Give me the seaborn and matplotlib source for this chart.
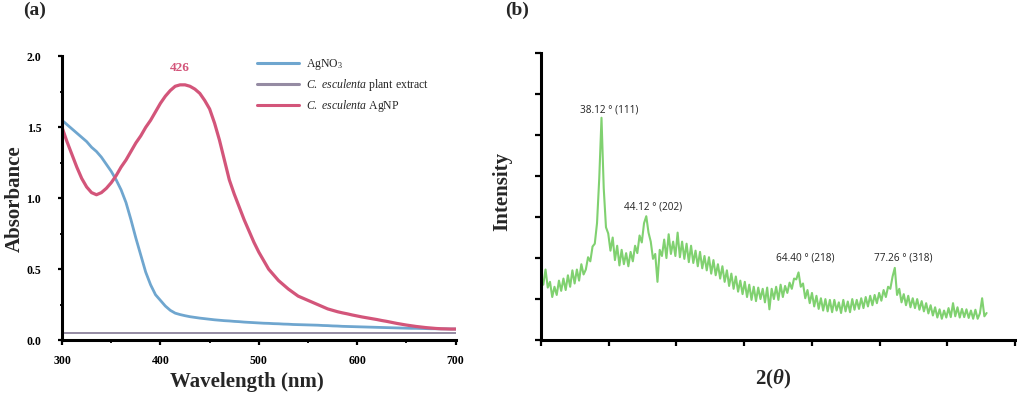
"""
UV-Vis spectra (a) and XRD pattern (b) of C. esculenta AgNP
"""
import numpy as np
import matplotlib
matplotlib.use('Agg')
import matplotlib.pyplot as plt
from matplotlib.ticker import MultipleLocator, FormatStrFormatter
import seaborn as sns

# ── data: UV-Vis (5 nm steps) ─────────────────────────────────────────────────
wavelength = list(range(300, 701, 5))
agno3 = [1.55, 1.52, 1.49, 1.46, 1.43, 1.40, 1.36, 1.33, 1.29, 1.24,
         1.19, 1.13, 1.06, 0.97, 0.85, 0.72, 0.60, 0.48, 0.39, 0.32,
         0.28, 0.24, 0.21, 0.19, 0.18, 0.172, 0.165, 0.16, 0.155, 0.151,
         0.147, 0.143, 0.14, 0.137, 0.135, 0.132, 0.13, 0.127, 0.125, 0.123,
         0.121, 0.119, 0.118, 0.116, 0.115, 0.113, 0.112, 0.11, 0.109, 0.108,
         0.107, 0.106, 0.105, 0.103, 0.102, 0.1, 0.099, 0.097, 0.096, 0.095,
         0.094, 0.093, 0.092, 0.091, 0.09, 0.089, 0.088, 0.087, 0.086, 0.085,
         0.084, 0.083, 0.083, 0.082, 0.081, 0.08, 0.08, 0.079, 0.079, 0.078,
         0.078]
agnp = [1.50, 1.40, 1.31, 1.22, 1.14, 1.08, 1.04, 1.025, 1.04, 1.07,
        1.11, 1.16, 1.22, 1.27, 1.33, 1.39, 1.44, 1.50, 1.55, 1.61,
        1.67, 1.72, 1.76, 1.79, 1.80, 1.80, 1.79, 1.77, 1.74, 1.69,
        1.63, 1.53, 1.41, 1.27, 1.13, 1.03, 0.94, 0.85, 0.77, 0.69,
        0.62, 0.56, 0.50, 0.46, 0.42, 0.39, 0.36, 0.335, 0.31, 0.295,
        0.28, 0.265, 0.25, 0.235, 0.22, 0.21, 0.20, 0.192, 0.185, 0.177,
        0.17, 0.163, 0.157, 0.151, 0.145, 0.138, 0.132, 0.125, 0.118, 0.112,
        0.106, 0.101, 0.096, 0.092, 0.088, 0.085, 0.082, 0.08, 0.079, 0.078,
        0.078]
extract_nm = [300, 700]
extract_abs = [0.052, 0.052]
peak_nm, peak_label = 420, '426'

# ── data: XRD (2θ scan, step 0.3°) ────────────────────────────────────────────
two_theta = np.round(np.arange(30.0, 89.8, 0.3), 1)
intensity = [
    1.53, 1.35, 1.72, 1.28, 1.42, 1.05, 1.30, 1.10, 1.45, 1.20,
    1.50, 1.22, 1.58, 1.30, 1.70, 1.38, 1.72, 1.45, 1.85, 1.60,
    1.72, 2.02, 1.92, 2.28, 2.35, 2.85, 3.95, 5.42, 3.70, 2.75,
    2.60, 2.18, 2.50, 1.95, 2.30, 1.82, 2.20, 1.85, 2.12, 1.80,
    2.15, 1.92, 2.30, 2.12, 2.55, 2.38, 2.85, 3.02, 2.62, 2.40,
    1.98, 2.10, 1.42, 2.20, 2.05, 2.45, 2.00, 2.58, 2.10, 2.40,
    2.05, 2.62, 2.02, 2.40, 1.98, 2.35, 1.90, 2.30, 1.88, 2.18,
    1.80, 2.15, 1.75, 2.05, 1.70, 2.02, 1.62, 1.95, 1.58, 1.85,
    1.50, 1.80, 1.42, 1.70, 1.32, 1.62, 1.25, 1.55, 1.18, 1.45,
    1.12, 1.42, 1.05, 1.35, 0.98, 1.30, 0.95, 1.28, 1.00, 1.25,
    0.92, 1.28, 0.75, 1.25, 1.00, 1.30, 0.98, 1.35, 1.05, 1.32,
    1.15, 1.40, 1.25, 1.50, 1.48, 1.65, 1.30, 1.38, 1.02, 1.22,
    0.90, 1.15, 0.82, 1.08, 0.76, 1.02, 0.72, 1.00, 0.70, 0.98,
    0.68, 0.98, 0.72, 0.92, 0.66, 0.98, 0.70, 0.94, 0.68, 1.00,
    0.74, 0.98, 0.76, 1.02, 0.78, 1.05, 0.82, 1.08, 0.85, 1.10,
    0.90, 1.15, 0.96, 1.22, 1.05, 1.30, 1.25, 1.55, 1.76, 1.10,
    1.25, 0.92, 1.12, 0.85, 1.08, 0.80, 1.02, 0.78, 1.00, 0.74,
    0.95, 0.70, 0.90, 0.65, 0.85, 0.60, 0.80, 0.55, 0.75, 0.52,
    0.72, 0.55, 0.78, 0.56, 0.90, 0.58, 0.80, 0.55, 0.76, 0.56,
    0.75, 0.54, 0.72, 0.52, 0.74, 0.52, 0.65, 1.02, 0.58, 0.66,
]
peak_pos = [38.12, 44.12, 64.40, 77.26]
peak_hkl = ['(111)', '(202)', '(218)', '(318)']
peak_text_xy = [(39.1, 5.62), (45.0, 3.25), (65.4, 2.0), (78.5, 2.0)]

# ── style ─────────────────────────────────────────────────────────────────────
sns.set_theme(style='ticks')
plt.rcParams.update({
    'font.family': ['Liberation Serif', 'DejaVu Serif'],
    'mathtext.fontset': 'custom',
    'mathtext.rm': 'Liberation Serif',
    'mathtext.it': 'Liberation Serif:italic',
    'mathtext.bf': 'Liberation Serif:bold',
    'mathtext.bfit': 'Liberation Serif:italic:bold',
    'axes.linewidth': 2.2, 'axes.edgecolor': 'black',
    'xtick.color': 'black', 'ytick.color': 'black',
    'xtick.major.width': 1.6, 'ytick.major.width': 1.6,
    'xtick.minor.width': 1.3, 'ytick.minor.width': 1.3,
    'xtick.major.size': 3.5, 'ytick.major.size': 3.0,
    'xtick.minor.size': 2.0, 'ytick.minor.size': 1.8,
})

C_BLUE, C_GREY, C_RED, C_GREEN = '#6fa6cf', '#958ba3', '#d3557a', '#80d170'

fig = plt.figure(figsize=(10.17, 3.95), dpi=100)

# ── (a) UV-Vis ────────────────────────────────────────────────────────────────
ax1 = fig.add_axes([0.061, 0.139, 0.387, 0.718])
sns.lineplot(x=wavelength, y=agno3, ax=ax1, color=C_BLUE, lw=2.0, label=r'AgNO$_3$')
sns.lineplot(x=extract_nm, y=extract_abs, ax=ax1, color=C_GREY, lw=1.4,
             label=r'$\mathit{C.\ esculenta}$ plant extract')
sns.lineplot(x=wavelength, y=agnp, ax=ax1, color=C_RED, lw=2.3,
             label=r'$\mathit{C.\ esculenta}$ AgNP')
ax1.set_xlim(300, 700)
ax1.set_ylim(0, 2.0)
ax1.xaxis.set_major_locator(MultipleLocator(100))
ax1.xaxis.set_minor_locator(MultipleLocator(50))
ax1.yaxis.set_major_locator(MultipleLocator(0.5))
ax1.yaxis.set_minor_locator(MultipleLocator(0.25))
ax1.yaxis.set_major_formatter(FormatStrFormatter('%.1f'))
ax1.tick_params(axis='x', which='major', pad=7, labelsize=8.5)
ax1.tick_params(axis='y', which='major', pad=12, labelsize=8.5)
for lab in ax1.get_xticklabels() + ax1.get_yticklabels():
    lab.set_fontweight('bold')
sns.despine(ax=ax1)
ax1.set_xlabel('Wavelength (nm)', fontsize=15, fontweight='bold')
ax1.set_ylabel('Absorbance', fontsize=15, fontweight='bold')
ax1.xaxis.set_label_coords(0.47, -0.113)
ax1.yaxis.set_label_coords(-0.094, 0.5)
ax1.text(peak_nm, 1.92, peak_label, color=C_RED, fontsize=9.5, fontweight='bold',
         ha='center', va='center')
leg = ax1.legend(loc='upper left', bbox_to_anchor=(0.48, 1.02), frameon=False,
                 fontsize=8.5, handlelength=3.6, labelspacing=0.45, borderpad=0,
                 handletextpad=0.6)
for line in leg.get_lines():
    line.set_linewidth(2.2)

# ── (b) XRD ───────────────────────────────────────────────────────────────────
ax2 = fig.add_axes([0.532, 0.139, 0.466, 0.727])
sns.lineplot(x=two_theta, y=intensity, ax=ax2, color=C_GREEN, lw=1.5)
ax2.set_xlim(30, 93.5)
ax2.set_ylim(0, 7)
ax2.set_xticks(np.linspace(30, 93.5, 8))
ax2.set_yticks(range(0, 8))
ax2.set_xticklabels([])
ax2.set_yticklabels([])
ax2.tick_params(length=4)
sns.despine(ax=ax2)
for pos, hkl, (tx, ty) in zip(peak_pos, peak_hkl, peak_text_xy):
    ax2.text(tx, ty, f'{pos:.2f} ° {hkl}', family=['Open Sans', 'DejaVu Sans'],
             fontsize=7.2, ha='center', va='center', color='#222222')
ax2.set_xlabel(r'$\mathbf{2(}\mathbfit{\theta}\mathbf{)}$', fontsize=15)
ax2.set_ylabel('Intensity', fontsize=15, fontweight='bold')
ax2.xaxis.set_label_coords(0.49, -0.098)
ax2.yaxis.set_label_coords(-0.061, 0.516)

fig.text(0.0226, 0.973, '(a)', fontsize=14, fontweight='bold', ha='left', va='center')
fig.text(0.497, 0.973, '(b)', fontsize=14, fontweight='bold', ha='left', va='center')

plt.savefig('out.png', dpi=100)
plt.close()
